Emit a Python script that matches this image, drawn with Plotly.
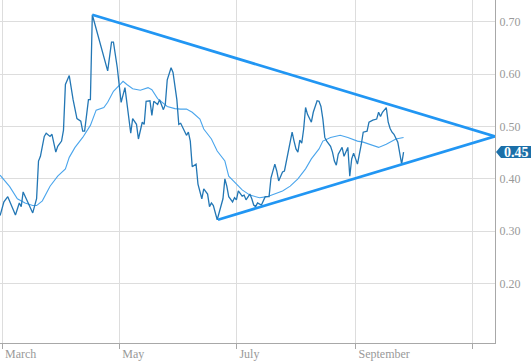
import plotly.graph_objects as go

# ---- data ----
price_dates = [
    "2018-02-28", "2018-03-02", "2018-03-04", "2018-03-07", "2018-03-08", "2018-03-10", "2018-03-11",
    "2018-03-12", "2018-03-15", "2018-03-17", "2018-03-19", "2018-03-20", "2018-03-21", "2018-03-23",
    "2018-03-24", "2018-03-26", "2018-03-27", "2018-03-29", "2018-03-30", "2018-04-01", "2018-04-02",
    "2018-04-03", "2018-04-05", "2018-04-07", "2018-04-09", "2018-04-11", "2018-04-12", "2018-04-13",
    "2018-04-15", "2018-04-16", "2018-04-17", "2018-04-25", "2018-04-27", "2018-04-28", "2018-04-30",
    "2018-05-02", "2018-05-04", "2018-05-07", "2018-05-08", "2018-05-10", "2018-05-11", "2018-05-13",
    "2018-05-14", "2018-05-15", "2018-05-17", "2018-05-18", "2018-05-19", "2018-05-21", "2018-05-22",
    "2018-05-23", "2018-05-24", "2018-05-25", "2018-05-26", "2018-05-28", "2018-05-29", "2018-05-31",
    "2018-06-01", "2018-06-02", "2018-06-03", "2018-06-05", "2018-06-06", "2018-06-07", "2018-06-08",
    "2018-06-10", "2018-06-11", "2018-06-13", "2018-06-14", "2018-06-16", "2018-06-17", "2018-06-18",
    "2018-06-19", "2018-06-21", "2018-06-24", "2018-06-25", "2018-06-26", "2018-06-27", "2018-06-29",
    "2018-06-30", "2018-07-01", "2018-07-02", "2018-07-04", "2018-07-05", "2018-07-06", "2018-07-08",
    "2018-07-09", "2018-07-10", "2018-07-11", "2018-07-12", "2018-07-14", "2018-07-15", "2018-07-16",
    "2018-07-18", "2018-07-19", "2018-07-21", "2018-07-22", "2018-07-23", "2018-07-25", "2018-07-26",
    "2018-07-27", "2018-07-28", "2018-07-30", "2018-07-31", "2018-08-01", "2018-08-02", "2018-08-03",
    "2018-08-04", "2018-08-05", "2018-08-06", "2018-08-07", "2018-08-09", "2018-08-10", "2018-08-12",
    "2018-08-13", "2018-08-14", "2018-08-15", "2018-08-16", "2018-08-17", "2018-08-19", "2018-08-20",
    "2018-08-21", "2018-08-22", "2018-08-23", "2018-08-25", "2018-08-26", "2018-08-28", "2018-08-29",
    "2018-08-30", "2018-08-31", "2018-09-01", "2018-09-02", "2018-09-04", "2018-09-05", "2018-09-07",
    "2018-09-08", "2018-09-10", "2018-09-12", "2018-09-13", "2018-09-14", "2018-09-15", "2018-09-17",
    "2018-09-18", "2018-09-19", "2018-09-20", "2018-09-21", "2018-09-23", "2018-09-24", "2018-09-25",
    "2018-09-26",
]
price_values = [
    0.330, 0.356, 0.366, 0.337, 0.331, 0.354, 0.347,
    0.375, 0.352, 0.335, 0.362, 0.434, 0.443, 0.481,
    0.487, 0.481, 0.485, 0.451, 0.462, 0.472, 0.493,
    0.580, 0.597, 0.551, 0.515, 0.510, 0.491, 0.491,
    0.551, 0.551, 0.713, 0.606, 0.661, 0.661, 0.612,
    0.546, 0.574, 0.487, 0.515, 0.504, 0.476, 0.508,
    0.504, 0.548, 0.549, 0.521, 0.548, 0.542, 0.551,
    0.542, 0.532, 0.542, 0.589, 0.612, 0.603, 0.551,
    0.504, 0.506, 0.498, 0.483, 0.489, 0.472, 0.423,
    0.428, 0.390, 0.362, 0.381, 0.371, 0.347, 0.354,
    0.349, 0.322, 0.362, 0.400, 0.386, 0.366, 0.356,
    0.364, 0.360, 0.377, 0.367, 0.369, 0.360, 0.371,
    0.362, 0.350, 0.347, 0.354, 0.350, 0.360, 0.366,
    0.366, 0.402, 0.428, 0.415, 0.396, 0.413, 0.415,
    0.434, 0.457, 0.489, 0.472, 0.457, 0.451, 0.474,
    0.468, 0.495, 0.536, 0.523, 0.508, 0.527, 0.549,
    0.548, 0.538, 0.514, 0.479, 0.472, 0.462, 0.451,
    0.434, 0.426, 0.447, 0.460, 0.443, 0.460, 0.405,
    0.438, 0.449, 0.438, 0.428, 0.466, 0.489, 0.491,
    0.508, 0.512, 0.514, 0.527, 0.519, 0.527, 0.536,
    0.508, 0.496, 0.489, 0.485, 0.470, 0.447, 0.428,
    0.451,
]

ma_dates = [
    "2018-02-28", "2018-03-05", "2018-03-09", "2018-03-13", "2018-03-17", "2018-03-19", "2018-03-22",
    "2018-03-26", "2018-03-30", "2018-04-03", "2018-04-05", "2018-04-08", "2018-04-12", "2018-04-16",
    "2018-04-19", "2018-04-23", "2018-04-25", "2018-04-28", "2018-05-02", "2018-05-03", "2018-05-05",
    "2018-05-08", "2018-05-12", "2018-05-16", "2018-05-18", "2018-05-21", "2018-05-26", "2018-05-30",
    "2018-06-02", "2018-06-05", "2018-06-08", "2018-06-12", "2018-06-14", "2018-06-18", "2018-06-21",
    "2018-06-25", "2018-06-27", "2018-07-01", "2018-07-04", "2018-07-08", "2018-07-13", "2018-07-17",
    "2018-07-21", "2018-07-25", "2018-07-29", "2018-08-02", "2018-08-06", "2018-08-09", "2018-08-13",
    "2018-08-15", "2018-08-19", "2018-08-24", "2018-08-28", "2018-09-02", "2018-09-05", "2018-09-08",
    "2018-09-13", "2018-09-17", "2018-09-22", "2018-09-26",
]
ma_values = [
    0.407, 0.385, 0.362, 0.354, 0.349, 0.349, 0.358,
    0.386, 0.405, 0.419, 0.441, 0.460, 0.479, 0.502,
    0.531, 0.536, 0.546, 0.567, 0.582, 0.586, 0.580,
    0.572, 0.569, 0.574, 0.570, 0.553, 0.538, 0.534,
    0.533, 0.533, 0.527, 0.514, 0.495, 0.476, 0.453,
    0.434, 0.405, 0.390, 0.379, 0.369, 0.364, 0.366,
    0.371, 0.377, 0.386, 0.400, 0.419, 0.438, 0.457,
    0.472, 0.479, 0.483, 0.479, 0.472, 0.470, 0.466,
    0.460, 0.466, 0.476, 0.479,
]

# triangle (resistance / support) lines
upper_dates = ["2018-04-17", "2018-11-12 14:00"]
upper_values = [0.713, 0.481]
lower_dates = ["2018-06-21 10:00", "2018-11-12 14:00"]
lower_values = [0.322, 0.481]

x_tick_vals = ["2018-03-01", "2018-05-01", "2018-07-01", "2018-09-01", "2018-11-01"]
x_tick_text = ["March", "May", "July", "September", ""]
y_tick_vals = [0.20, 0.30, 0.40, 0.50, 0.60, 0.70]

x_range = ["2018-02-27 23:00", "2018-11-12 14:00"]
y_range = [0.0868, 0.7412]

# ---- figure ----
fig = go.Figure()
fig.add_trace(go.Scatter(x=ma_dates, y=ma_values, mode="lines",
                         line=dict(color="#4aa5ec", width=1.1), hoverinfo="skip"))
fig.add_trace(go.Scatter(x=price_dates, y=price_values, mode="lines",
                         line=dict(color="#2377b5", width=1.3), hoverinfo="skip"))
fig.add_trace(go.Scatter(x=upper_dates, y=upper_values, mode="lines",
                         line=dict(color="#2196f3", width=2.8), hoverinfo="skip", cliponaxis=False))
fig.add_trace(go.Scatter(x=lower_dates, y=lower_values, mode="lines",
                         line=dict(color="#2196f3", width=2.8), hoverinfo="skip", cliponaxis=False))

last_val = price_values[-1]
tag_color = "#1b6fa8"
fig.add_shape(type="path", xref="paper", yref="y", xsizemode="pixel", ysizemode="pixel",
              xanchor=1, yanchor=last_val,
              path="M 1 0 L 6 6 L 40 6 L 40 -6 L 6 -6 Z",
              fillcolor=tag_color, line=dict(width=0), layer="above")
fig.add_annotation(x=1, xref="paper", y=last_val, yref="y", xanchor="center", yanchor="middle",
                   xshift=21, text=f"<b>{last_val:.2f}</b>", showarrow=False,
                   font=dict(family="Liberation Serif", size=14, color="#ffffff"))

fig.update_layout(
    width=531, height=361,
    margin=dict(l=0, r=36, t=0, b=16),
    paper_bgcolor="#ffffff", plot_bgcolor="#ffffff",
    showlegend=False,
    font=dict(family="Liberation Serif", size=12, color="#999999"),
)
fig.update_xaxes(
    type="date", range=x_range,
    tickvals=x_tick_vals, ticktext=x_tick_text,
    showgrid=True, gridcolor="#dddddd", gridwidth=1,
    showline=True, linecolor="#a8a8a8", linewidth=1,
    ticks="outside", ticklen=5, tickcolor="#a8a8a8",
    ticklabelposition="outside right", ticklabelshift=2,
    tickfont=dict(family="Liberation Serif", size=12, color="#999999"),
    zeroline=False, fixedrange=True,
)
fig.update_yaxes(
    range=y_range, side="right",
    tickvals=y_tick_vals, tickformat=".2f",
    showgrid=True, gridcolor="#dddddd", gridwidth=1,
    showline=True, linecolor="#a8a8a8", linewidth=1,
    ticks="", ticklabelstandoff=1,
    tickfont=dict(family="Liberation Serif", size=12, color="#999999"),
    zeroline=False, fixedrange=True,
)

fig.write_html("out.html", config={"displayModeBar": False})
